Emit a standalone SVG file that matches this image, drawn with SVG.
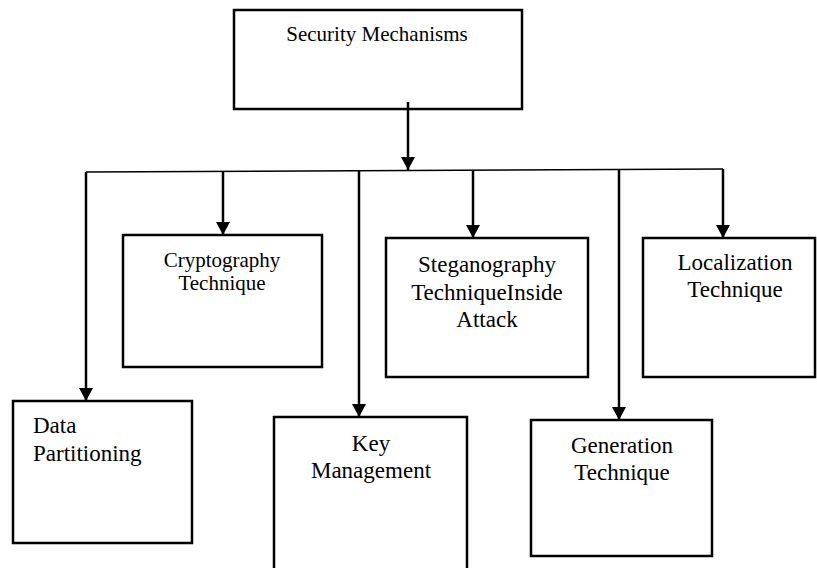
<svg xmlns="http://www.w3.org/2000/svg" width="817" height="568" viewBox="0 0 817 568">
  <style>
    .box { fill: #fff; stroke: #000; stroke-width: 2.5; }
    .t { font-family: 'Liberation Serif', serif; fill: #000; }
    .c { text-anchor: middle; }
    .v { stroke: #000; stroke-width: 2.5; fill: none; }
    .h { stroke: #000; stroke-width: 1.5; fill: none; }
  </style>
  <defs>
    <marker id="arr" markerUnits="userSpaceOnUse" markerWidth="14" markerHeight="14" viewBox="0 0 14 14" refX="13" refY="7" orient="auto">
      <path d="M0,0 L13,7 L0,14 Z" fill="#000"/>
    </marker>
  </defs>

  <rect width="817" height="568" fill="#fff"/>

  <g id="node-security">
    <rect class="box" x="234" y="10" width="288" height="99"/>
    <text class="t c" font-family="Liberation Serif, serif" x="377" y="41" font-size="21">Security Mechanisms</text>
  </g>

  <g id="node-cryptography">
    <rect class="box" x="123" y="235" width="199" height="132"/>
    <text class="t c" font-family="Liberation Serif, serif" font-size="21"><tspan x="222" y="267">Cryptography</tspan><tspan x="222" y="290">Technique</tspan></text>
  </g>

  <g id="node-steganography">
    <rect class="box" x="386" y="238" width="202" height="139"/>
    <text class="t c" font-family="Liberation Serif, serif" font-size="23"><tspan x="487" y="272">Steganography</tspan><tspan x="487" y="300">TechniqueInside</tspan><tspan x="487" y="327">Attack</tspan></text>
  </g>

  <g id="node-localization">
    <rect class="box" x="643" y="238" width="172" height="139"/>
    <text class="t c" font-family="Liberation Serif, serif" font-size="23"><tspan x="735" y="270">Localization</tspan><tspan x="735" y="297">Technique</tspan></text>
  </g>

  <g id="node-data">
    <rect class="box" x="13" y="401" width="179" height="142"/>
    <text class="t" font-family="Liberation Serif, serif" font-size="23"><tspan x="33" y="433">Data</tspan><tspan x="33" y="461">Partitioning</tspan></text>
  </g>

  <g id="node-key">
    <rect class="box" x="274" y="417" width="193" height="160"/>
    <text class="t c" font-family="Liberation Serif, serif" font-size="23"><tspan x="371" y="451">Key</tspan><tspan x="371" y="478">Management</tspan></text>
  </g>

  <g id="node-generation">
    <rect class="box" x="531" y="420" width="181" height="136"/>
    <text class="t c" font-family="Liberation Serif, serif" font-size="23"><tspan x="622" y="453">Generation</tspan><tspan x="622" y="480">Technique</tspan></text>
  </g>

  <g id="connectors">
    <line class="v" x1="408" y1="102" x2="408" y2="170" marker-end="url(#arr)"/>
    <line class="h" x1="86" y1="172" x2="723" y2="169"/>
    <line class="v" x1="86" y1="172" x2="86" y2="401" marker-end="url(#arr)"/>
    <line class="v" x1="223" y1="171" x2="223" y2="235" marker-end="url(#arr)"/>
    <line class="v" x1="359" y1="171" x2="359" y2="417" marker-end="url(#arr)"/>
    <line class="v" x1="473" y1="170" x2="473" y2="238" marker-end="url(#arr)"/>
    <line class="v" x1="619" y1="170" x2="619" y2="420" marker-end="url(#arr)"/>
    <line class="v" x1="723" y1="169" x2="723" y2="238" marker-end="url(#arr)"/>
  </g>
</svg>
